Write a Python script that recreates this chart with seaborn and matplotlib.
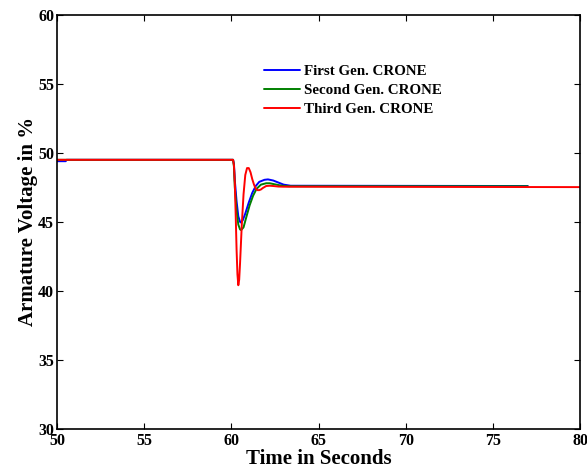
import matplotlib
matplotlib.use("Agg")
import matplotlib.pyplot as plt
import seaborn as sns
import pandas as pd

# Armature voltage (%) after the load change at t = 60 s, for three CRONE controller generations
first_t = [50.0, 50.5, 50.55, 60.1, 60.15, 60.2, 60.3, 60.4, 60.5, 60.55, 60.65, 60.8,
           61.0, 61.2, 61.4, 61.6, 61.9, 62.1, 62.4, 62.7, 63.0, 63.4, 77.0]
first_v = [49.4, 49.4, 49.5, 49.5, 49.2, 48.0, 46.5, 45.4, 45.0, 44.95, 45.1, 45.6,
           46.4, 47.1, 47.6, 47.9, 48.05, 48.08, 48.0, 47.85, 47.7, 47.62, 47.6]

second_t = [50.0, 60.1, 60.15, 60.2, 60.3, 60.4, 60.5, 60.56, 60.7, 60.85, 61.05, 61.25,
            61.45, 61.7, 62.0, 62.2, 62.5, 62.9, 63.3, 77.0]
second_v = [49.5, 49.5, 49.0, 47.5, 45.8, 44.8, 44.45, 44.4, 44.6, 45.3, 46.2, 46.9,
            47.4, 47.7, 47.8, 47.8, 47.72, 47.62, 47.58, 47.58]

third_t = [50.0, 60.1, 60.15, 60.2, 60.25, 60.3, 60.35, 60.4, 60.45, 60.5, 60.6, 60.7,
           60.8, 60.9, 61.0, 61.1, 61.2, 61.3, 61.4, 61.5, 61.6, 61.7, 61.8, 62.0,
           62.2, 62.4, 62.7, 63.0, 80.0]
third_v = [49.5, 49.5, 49.1, 47.8, 45.5, 43.0, 41.2, 40.4, 40.8, 42.0, 44.8, 47.0,
           48.4, 48.9, 48.9, 48.6, 48.1, 47.7, 47.4, 47.3, 47.3, 47.35, 47.45, 47.6,
           47.62, 47.6, 47.56, 47.55, 47.52]

labels = ["First Gen. CRONE", "Second Gen. CRONE", "Third Gen. CRONE"]
colors = ["#0000ff", "#008000", "#ff0000"]

x_ticks = [50, 55, 60, 65, 70, 75, 80]
y_ticks = [30, 35, 40, 45, 50, 55, 60]

df = pd.concat([
    pd.DataFrame({"t": first_t, "v": first_v, "series": labels[0]}),
    pd.DataFrame({"t": second_t, "v": second_v, "series": labels[1]}),
    pd.DataFrame({"t": third_t, "v": third_v, "series": labels[2]}),
], ignore_index=True)

sns.set_style("white")
plt.rcParams["font.family"] = ["Liberation Serif", "DejaVu Serif"]
plt.rcParams["font.weight"] = "bold"
plt.rcParams["axes.labelweight"] = "bold"
plt.rcParams["text.color"] = "black"
plt.rcParams["axes.labelcolor"] = "black"
plt.rcParams["xtick.color"] = "black"
plt.rcParams["ytick.color"] = "black"

fig = plt.figure(figsize=(5.87, 4.72), dpi=100)
ax = fig.add_axes([0.0971, 0.092, 0.891, 0.876])

sns.lineplot(data=df, x="t", y="v", hue="series", hue_order=labels,
             palette=dict(zip(labels, colors)), estimator=None, sort=False,
             linewidth=1.4, ax=ax)

ax.set_xlim(50, 80)
ax.set_ylim(30, 60)
ax.set_xticks(x_ticks)
ax.set_yticks(y_ticks)
ax.set_xticklabels([str(v) for v in x_ticks], fontsize=11.5, fontweight="bold")
ax.set_yticklabels([str(v) for v in y_ticks], fontsize=11.5, fontweight="bold")
ax.tick_params(direction="in", length=4, width=0.8, top=True, right=True,
               bottom=True, left=True, colors="black")
ax.tick_params(axis="x", pad=3)
ax.tick_params(axis="y", pad=2)
for s in ax.spines.values():
    s.set_visible(True)
    s.set_color("black")
    s.set_linewidth(1.2)

ax.set_xlabel("Time in Seconds", fontsize=15, fontweight="bold", labelpad=0,
              color="black")
ax.set_ylabel("Armature Voltage in %", fontsize=15, fontweight="bold", labelpad=0,
              color="black")

leg = ax.legend(loc="upper left", bbox_to_anchor=(0.385, 0.895), frameon=False,
                prop={"family": "Liberation Serif", "weight": "bold", "size": 10.8},
                handlelength=2.4, handletextpad=0.27, labelspacing=0.38,
                borderaxespad=0, labelcolor="black")
for line in leg.get_lines():
    line.set_linewidth(1.4)

fig.savefig("out.png", dpi=100)
